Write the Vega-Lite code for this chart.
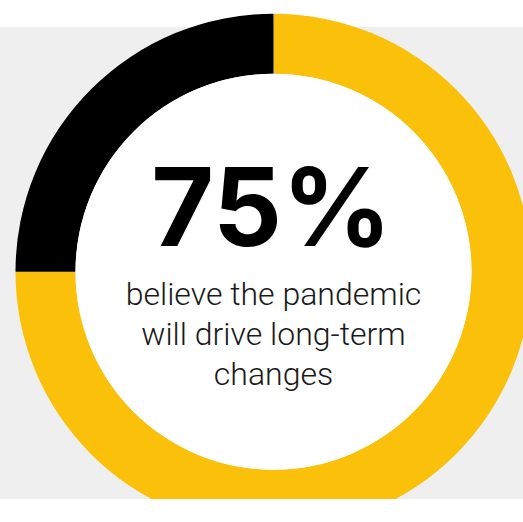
{
  "$schema": "https://vega.github.io/schema/vega-lite/v6.json",
  "width": 547,
  "height": 472,
  "autosize": {"type": "none"},
  "padding": {"top": 27, "left": 0, "right": 0, "bottom": 0},
  "background": "white",
  "view": {"fill": "#efefef", "stroke": null},
  "resolve": {"scale": {"theta": "independent"}},
  "layer": [
    {
      "data": {"values": [
        {"group": "Will drive long-term changes", "share": 75, "rank": 1},
        {"group": "Will not", "share": 25, "rank": 2}
      ]},
      "mark": {"type": "arc", "outerRadius": 258, "innerRadius": 198, "yOffset": 8.7},
      "encoding": {
        "theta": {"field": "share", "type": "quantitative", "stack": true},
        "order": {"field": "rank", "type": "quantitative", "sort": "ascending"},
        "color": {"field": "group", "type": "nominal", "legend": null,
          "scale": {"domain": ["Will drive long-term changes", "Will not"], "range": ["#FAC00A", "#000000"]}}
      }
    },
    {
      "data": {"values": [{"whole": 100}]},
      "mark": {"type": "arc", "outerRadius": 198, "innerRadius": 0, "fill": "#ffffff", "yOffset": 8.7},
      "encoding": {"theta": {"field": "whole", "type": "quantitative"}}
    },
    {
      "data": {"values": [{"label": "75%"}]},
      "mark": {"type": "text", "font": "Inter", "fontWeight": "bold", "fontSize": 108, "baseline": "alphabetic", "align": "center", "dy": -17, "dx": -2, "color": "#000000"},
      "encoding": {"text": {"field": "label"}}
    },
    {
      "data": {"values": [{"caption": ["believe the pandemic", "will drive long-term", "changes"]}]},
      "mark": {"type": "text", "font": "Roboto", "fontWeight": 300, "fontSize": 32, "lineHeight": 40, "baseline": "alphabetic", "align": "center", "dy": 42, "color": "#1a1a1a"},
      "encoding": {"text": {"field": "caption"}}
    }
  ]
}
